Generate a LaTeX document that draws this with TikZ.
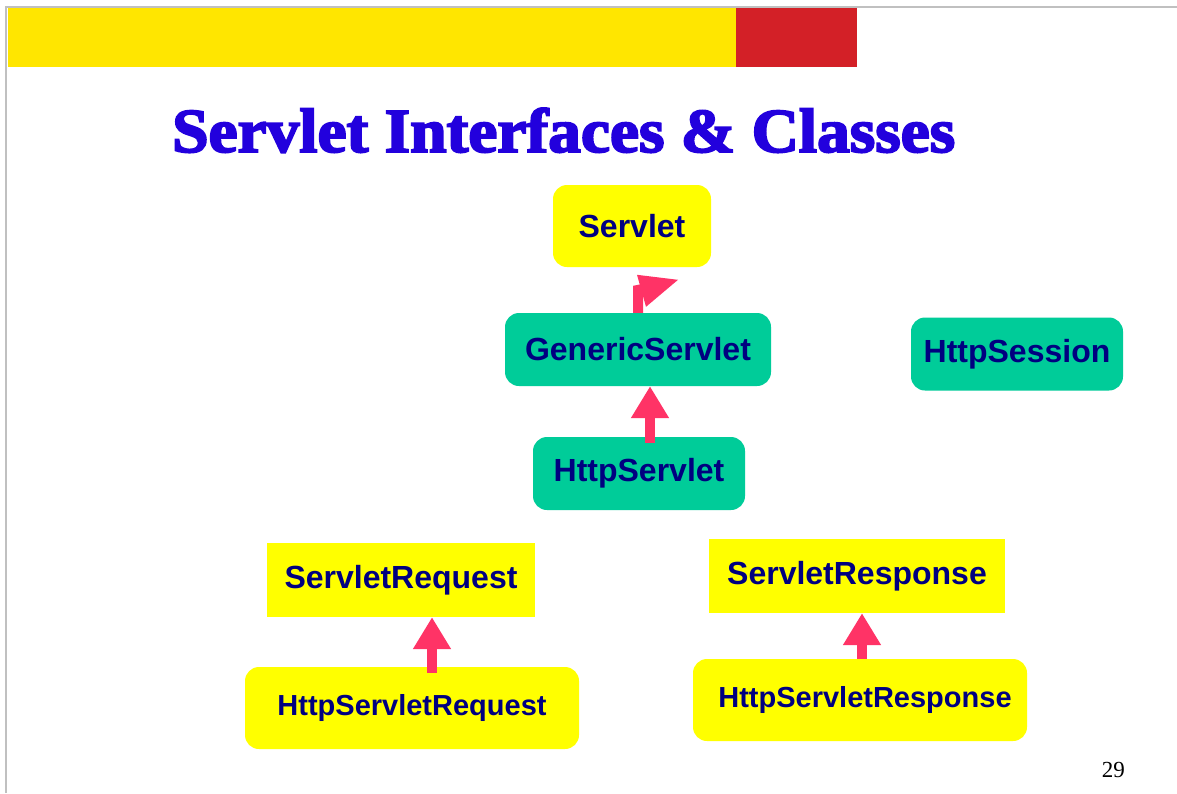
\documentclass[tikz,border=0pt]{standalone}
\usepackage{fontspec}
\setmainfont{Liberation Serif}
\newfontfamily\boxfont{Liberation Sans}
\newfontfamily\titlefont{Liberation Serif Bold}[FakeBold=3]
\usetikzlibrary{arrows.meta,calc}

\definecolor{barYellow}{HTML}{FFE600}
\definecolor{barRed}{HTML}{D32027}
\definecolor{frameGray}{HTML}{C0C0C0}
\definecolor{titleBlue}{HTML}{2200DD}
\definecolor{boxYellow}{HTML}{FFFF00}
\definecolor{boxTeal}{HTML}{00CC99}
\definecolor{labelNavy}{HTML}{000080}
\definecolor{arrowPink}{HTML}{FF3366}

\tikzset{
  classbox/.style={inner sep=0pt, text=labelNavy,
    font=\boxfont\bfseries\fontsize{32}{36}\selectfont},
  roundbox/.style={classbox, rounded corners=14pt},
  yellowbox/.style={fill=boxYellow},
  tealbox/.style={fill=boxTeal},
  smalltext/.style={font=\boxfont\bfseries\fontsize{29}{33}\selectfont},
  inherits/.style={draw=arrowPink, line width=10pt,
    -{Triangle[width=36pt,length=32pt]}},
}

\begin{document}
\begin{tikzpicture}[x=1pt,y=-1pt]
  \useasboundingbox[fill=white] (0,0) rectangle (1177,793);

  % slide frame and header bar
  \draw[frameGray, line width=2pt] (6,793) -- (6,6.5) -- (1177,6.5);
  \fill[barYellow] (8,8) rectangle (736,67);
  \fill[barRed] (736,8) rectangle (857,67);

  % title
  \node[anchor=base west, inner sep=0pt, text=titleBlue] (title) at (172,152)
    {\resizebox{783pt}{44pt}{\titlefont Servlet Interfaces \& Classes}};

  % class boxes
  \node[roundbox, yellowbox, minimum width=158pt, minimum height=82pt] (servlet) at (632,226) {Servlet};
  \node[roundbox, tealbox, minimum width=266pt, minimum height=73pt] (generic) at (638,349.5) {GenericServlet\hspace{6pt}};
  \node[roundbox, tealbox, minimum width=212pt, minimum height=73pt] (httpservlet) at (639,473.5) {HttpServlet\hspace{5pt}};
  \node[roundbox, tealbox, minimum width=212pt, minimum height=73pt] (session) at (1017,354) {HttpSession\hspace{3pt}};
  \node[classbox, yellowbox, minimum width=268pt, minimum height=74pt] (request) at (401,580) {ServletRequest\hspace{3pt}};
  \node[roundbox, yellowbox, smalltext, minimum width=334pt, minimum height=82pt] (httprequest) at (412,708) {HttpServletRequest};
  \node[classbox, yellowbox, minimum width=296pt, minimum height=74pt] (response) at (857,576) {ServletResponse\hspace{3pt}};
  \node[roundbox, yellowbox, smalltext, minimum width=334pt, minimum height=82pt] (httpresponse) at (860,700) {\hspace{10pt}HttpServletResponse};

  % inheritance arrows
  \draw[inherits] ([xshift=11pt,yshift=-6pt]httpservlet.north) -- ([xshift=12pt]generic.south);
  \draw[inherits] ([xshift=20pt,yshift=-6pt]httprequest.north) -- ([xshift=31pt]request.south);
  \draw[inherits] ([xshift=2pt]httpresponse.north) -- ([xshift=5pt]response.south);

  % skewed arrow from GenericServlet towards Servlet
  \fill[arrowPink] ($(generic.north)+(-5,0)$) -- ($(generic.north)+(-5,-27)$)
    -- ($(generic.north)+(5,-29)$) -- ($(generic.north)+(5,0)$) -- cycle;
  \fill[arrowPink] ($(generic.north)+(-1,-38)$) -- ($(generic.north)+(40,-33)$)
    -- ($(generic.north)+(8,-6)$) -- cycle;

  % page number
  \node[anchor=base east, inner sep=0pt, font=\fontsize{23}{26}\selectfont] (page) at (1125,777) {29};
\end{tikzpicture}
\end{document}
